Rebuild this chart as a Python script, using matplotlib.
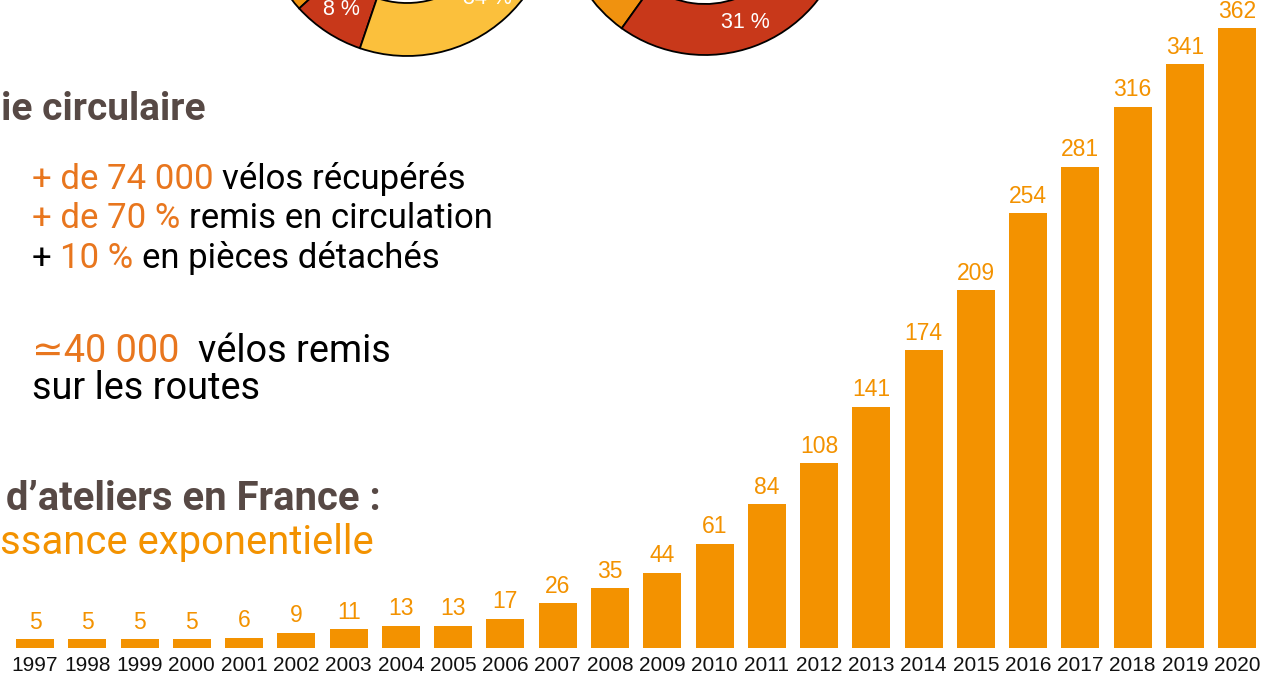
import numpy as np
import matplotlib
matplotlib.use("Agg")
import matplotlib.pyplot as plt
from matplotlib.patches import Wedge

# data
years = [str(y) for y in range(1997, 2021)]
ateliers = [5, 5, 5, 5, 6, 9, 11, 13, 13, 17, 26, 35, 44, 61, 84, 108, 141, 174,
            209, 254, 281, 316, 341, 362]

left_pie_pct = [12, 8, 34]      # orange (hidden part), red, yellow
right_pie_pct = [12, 31]        # orange (hidden part), red
left_pie_labels = [None, "8 %", "34 %"]
right_pie_labels = [None, "31 %"]

W, H = 1279, 675
ORANGE = "#F39200"
TXT_ORANGE = "#E8761E"
BROWN = "#574945"
RED = "#C8381A"
YELLOW = "#FBC03C"
PIE_ORANGE = "#F0920F"

SANS = ["Roboto", "DejaVu Sans"]
REG = ["Liberation Sans", "DejaVu Sans"]

fig = plt.figure(figsize=(W / 100, H / 100), dpi=100)
renderer = fig.canvas.get_renderer()

# bar chart
ax = fig.add_axes([0, 27 / H, 1, 1 - 27 / H])
x = np.arange(len(years))
bars = ax.bar(x, ateliers, width=0.727, color=ORANGE)
ax.bar_label(bars, labels=[str(v) for v in ateliers], padding=4,
             fontsize=16.5, color=ORANGE, family=REG)
ax.set_xlim(-0.67, 23.8)
ax.set_ylim(0, (H - 27) / 1.712)
ax.set_xticks(x)
ax.set_xticklabels(years, fontsize=15, family=REG, color="#111111")
ax.tick_params(axis="x", length=0, pad=6)
ax.set_yticks([])
for s in ax.spines.values():
    s.set_visible(False)
ax.patch.set_alpha(0)

# donuts (cut off at the top)
ax2 = fig.add_axes([0, 0, 1, 1])
ax2.set_xlim(0, W)
ax2.set_ylim(0, H)
ax2.axis("off")


def donut(cx, cy, R, r, pcts, colors, start, labels):
    a = start
    for p, c, lab in zip(pcts, colors, labels):
        t2 = a + p * 3.6
        ax2.add_patch(Wedge((cx, cy), R, a, t2, width=R - r, fc=c,
                            ec="black", lw=1.3))
        if lab:
            mid = np.radians((a + t2) / 2)
            rm = (R + r) / 2
            ax2.text(cx + rm * np.cos(mid), cy + rm * np.sin(mid), lab,
                     color="white", fontsize=15.5, family=REG,
                     ha="center", va="center")
        a = t2


donut(407, H + 90, 146, 93, left_pie_pct, [PIE_ORANGE, RED, YELLOW],
      222.4 - left_pie_pct[0] * 3.6, left_pie_labels)
donut(705, H + 88, 143, 92, right_pie_pct, [PIE_ORANGE, RED],
      234.4 - right_pie_pct[0] * 3.6, right_pie_labels)

# text block
space_cache = {}


def width_of(s, size, weight):
    t = fig.text(0, 0, s, fontsize=size, family=SANS, weight=weight)
    w = t.get_window_extent(renderer).width
    t.remove()
    return w


def line(xp, yp, parts, size=25, weight="normal"):
    key = (size, weight)
    if key not in space_cache:
        space_cache[key] = width_of("a a", size, weight) - width_of("aa", size, weight)
    sp = space_cache[key]
    for s, c, gap in parts:
        xp += gap * sp
        t = fig.text(xp / W, 1 - yp / H, s, color=c, fontsize=size,
                     family=SANS, weight=weight, ha="left", va="baseline")
        xp += t.get_window_extent(renderer).width


line(1, 120, [("ie circulaire", BROWN, 0)], size=28, weight="bold")
line(32, 189, [("+ de 74 000", TXT_ORANGE, 0), ("vélos récupérés", "black", 1)])
line(32, 228, [("+ de 70 %", TXT_ORANGE, 0), ("remis en circulation", "black", 1)])
line(32, 268, [("+", "black", 0), ("10 %", TXT_ORANGE, 1),
               ("en pièces détachés", "black", 1)])
line(32, 362, [("≃40 000", TXT_ORANGE, 0), ("vélos remis", "black", 2)], size=27.3)
line(32, 399, [("sur les routes", "black", 0)], size=27.3)
line(6, 510, [("d’ateliers en France :", BROWN, 0)], size=28.8, weight="bold")
line(0, 554, [("ssance exponentielle", ORANGE, 0)], size=28.8)

fig.savefig("out.png", dpi=100)
